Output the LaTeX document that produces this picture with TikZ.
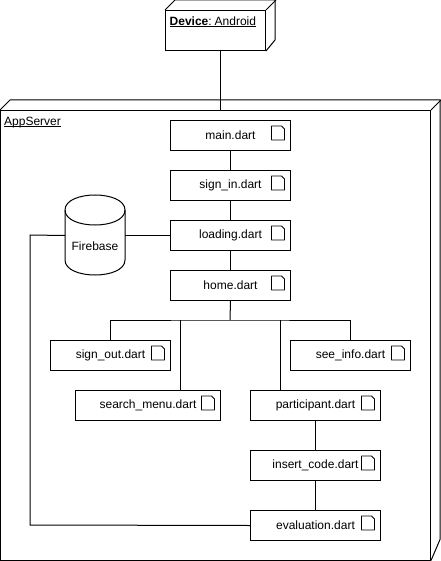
\documentclass[tikz,border=0pt]{standalone}
\usepackage{fontspec}
\setmainfont{Liberation Sans}
\newcommand{\ulbox}[1]{\setbox0\hbox{#1}\rlap{\rule[-1.8pt]{\wd0}{0.8pt}}\box0}
\newcommand{\docicon}[1]{%
  \draw[iconline] ([shift={(-19.5,6)}]#1.north east) -- ([shift={(-9.5,6)}]#1.north east) -- ([shift={(-6.5,9)}]#1.north east) -- ([shift={(-6.5,20)}]#1.north east) -- ([shift={(-19.5,20)}]#1.north east) -- cycle;}
\tikzset{
  x=1bp,y=-1bp,
  every node/.style={font=\fontsize{12bp}{14bp}\selectfont,text=black},
  iconline/.style={line width=0.8bp,line join=round},
  conn/.style={line width=1bp},
  solid3d/.style={line width=1bp,line join=miter},
  dartbox/.style={draw,line width=1bp,rectangle,inner sep=0pt,anchor=north west},
  plainlabel/.style={inner sep=0pt},
}
\newcommand{\dartnode}[6]{\node[dartbox,minimum width=#4 bp,minimum height=#5 bp] (#1) at (#2,#3) {\raisebox{-0.8pt}{#6}};\docicon{#1}}
\begin{document}
\begin{tikzpicture}
\useasboundingbox (0.5,0.5) rectangle (441.5,561.5);
% device
\node[dartbox,minimum width=100bp,minimum height=40bp] (device) at (165.5,10.5) {};
\draw[solid3d] (device.north west) -- ++(10,-10) -- ++(100,0) -- ++(0,40) -- (device.south east);
\draw[solid3d] (device.north east) -- ++(10,-10);
\node[plainlabel,anchor=base west] (devicelabel) at (170,26) {\ulbox{\textbf{Device}:\hspace{3pt}Android}};
% server
\node[dartbox,minimum width=430bp,minimum height=449.5bp] (server) at (0.5,110.5) {};
\draw[solid3d] (server.north west) -- ++(10,-10) -- ++(430,0) -- ++(0,439.5) -- (server.south east);
\draw[solid3d] (server.north east) -- ++(10,-10);
\node[plainlabel,anchor=base west] (serverlabel) at (4.5,126) {\ulbox{AppServer}};
% files
\dartnode{main}{170.5}{120.5}{120}{30}{main.dart}
\dartnode{signin}{170.5}{170.5}{120}{30}{sign\_in.dart}
\dartnode{loading}{170.5}{220.5}{120}{30}{loading.dart}
\dartnode{home}{170.5}{270.5}{120}{30}{home.dart}
\dartnode{signout}{50.5}{340.5}{120}{30}{sign\_out.dart}
\dartnode{seeinfo}{290.5}{340.5}{120}{30}{see\_info.dart}
\dartnode{search}{75.5}{390.5}{145}{30}{search\_menu.dart}
\dartnode{participant}{250.5}{390.5}{130}{30}{participant.dart}
\dartnode{insert}{250.5}{450.5}{130}{30}{insert\_code.dart}
\dartnode{evaluation}{250.5}{510.5}{130}{30}{evaluation.dart}
% firebase
\node[inner sep=0pt,minimum width=60bp,minimum height=80bp,anchor=north west] (firebase) at (65.5,195.5) {};
\node[plainlabel] (firebaselabel) at (95.5,246.5) {Firebase};
\draw[line width=1bp] (65.5,210.5) .. controls (65.5,190.5) and (125.5,190.5) .. (125.5,210.5) -- (125.5,260.5) .. controls (125.5,280.5) and (65.5,280.5) .. (65.5,260.5) -- cycle;
\draw[line width=1bp] (65.5,210.5) .. controls (65.5,230.5) and (125.5,230.5) .. (125.5,210.5);
% junctions
\coordinate (bus) at (230.5,320.5);
\coordinate (searchdrop) at (180.5,390.5);
\coordinate (partdrop) at (280.5,390.5);
\coordinate (leftrail) at (30.5,235.5);
\coordinate (lefthook) at (30.5,525.5);
\coordinate (servertop) at (220.5,110.5);
\coordinate (devbottom) at (220.5,50.5);
% connectors
\draw[conn] (devbottom) -- (servertop);
\draw[conn] (main.south) -- (signin.north);
\draw[conn] (signin.south) -- (loading.north);
\draw[conn] (loading.south) -- (home.north);
\draw[conn] (firebase.east |- loading.west) -- (loading.west);
\draw[conn] (firebase.west |- loading.west) -- (leftrail) -- (lefthook) -- (evaluation.west);
\draw[conn] (home.south) -- (bus);
\draw[conn] (signout.north) |- (bus) -| (seeinfo.north);
\draw[conn] (searchdrop) -- (searchdrop |- bus);
\draw[conn] (partdrop) -- (partdrop |- bus);
\draw[conn] (participant.south) -- (insert.north);
\draw[conn] (insert.south) -- (evaluation.north);
\end{tikzpicture}
\end{document}
